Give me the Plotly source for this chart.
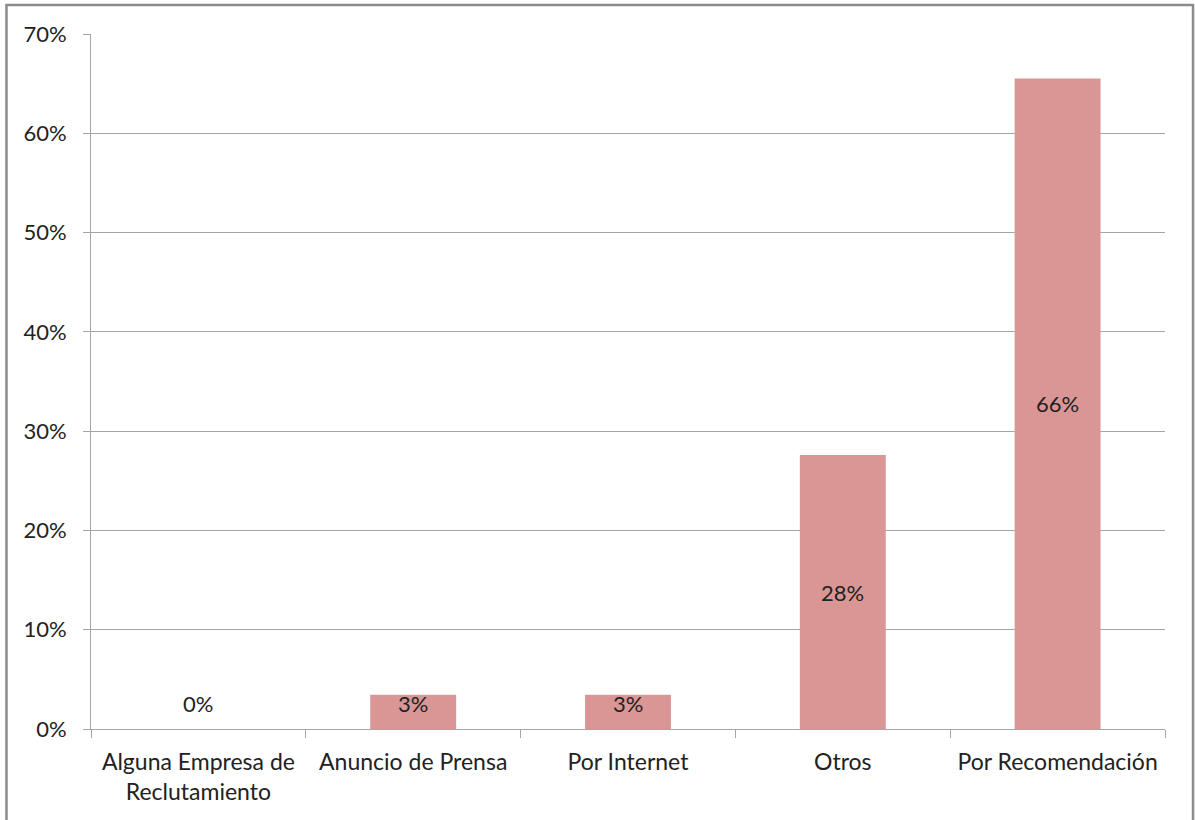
import plotly.graph_objects as go

categories = ["Alguna Empresa de<br>Reclutamiento", "Anuncio de Prensa", "Por Internet", "Otros", "Por Recomendación"]
values = [0.0, 0.0345, 0.0345, 0.2759, 0.6552]
y_ticks = [0, 0.1, 0.2, 0.3, 0.4, 0.5, 0.6, 0.7]

BAR_COLOR = "#D99694"
GRID = "#A6A6A6"
TEXT = "#222222"
FONT = "Lato"

fig = go.Figure()
fig.add_trace(go.Bar(
    x=categories,
    y=values,
    marker=dict(color=BAR_COLOR, line=dict(width=0)),
    width=0.4,
    hoverinfo="skip",
))

# value labels, centred on each bar (kept just above the axis for tiny bars)
for c, v in zip(categories, values):
    fig.add_annotation(
        x=c, y=max(v / 2, 0.026), text=f"{v:.0%}", showarrow=False,
        font=dict(family=FONT, size=22, color=TEXT),
        xanchor="center", yanchor="middle",
    )

# outer chart frame
fig.add_shape(
    type="rect", xref="paper", yref="paper",
    x0=-0.0787, x1=1.0261, y0=-0.15, y1=1.0417,
    line=dict(color="#8C8C8C", width=2.5), fillcolor="rgba(0,0,0,0)", layer="below",
)

fig.update_layout(
    width=1195, height=820,
    margin=dict(l=91, r=30, t=34, b=91),
    paper_bgcolor="white", plot_bgcolor="white",
    showlegend=False,
    font=dict(family=FONT, size=22, color=TEXT),
    bargap=0.6,
)
fig.update_yaxes(
    range=[0, 0.7], tickvals=y_ticks, tickformat=".0%",
    showgrid=True, gridcolor=GRID, gridwidth=1,
    showline=True, linecolor=GRID, linewidth=1,
    ticks="outside", ticklen=7, tickcolor=GRID,
    ticklabelstandoff=12, zeroline=False,
    tickfont=dict(family=FONT, size=22, color=TEXT),
)
fig.update_xaxes(
    showline=True, linecolor=GRID, linewidth=1,
    ticks="outside", ticklen=8, tickcolor=GRID, tickson="boundaries",
    tickfont=dict(family=FONT, size=23, color=TEXT),
    ticklabelstandoff=12,
    range=[-0.5, 4.5],
)

fig.write_html("out.html")
